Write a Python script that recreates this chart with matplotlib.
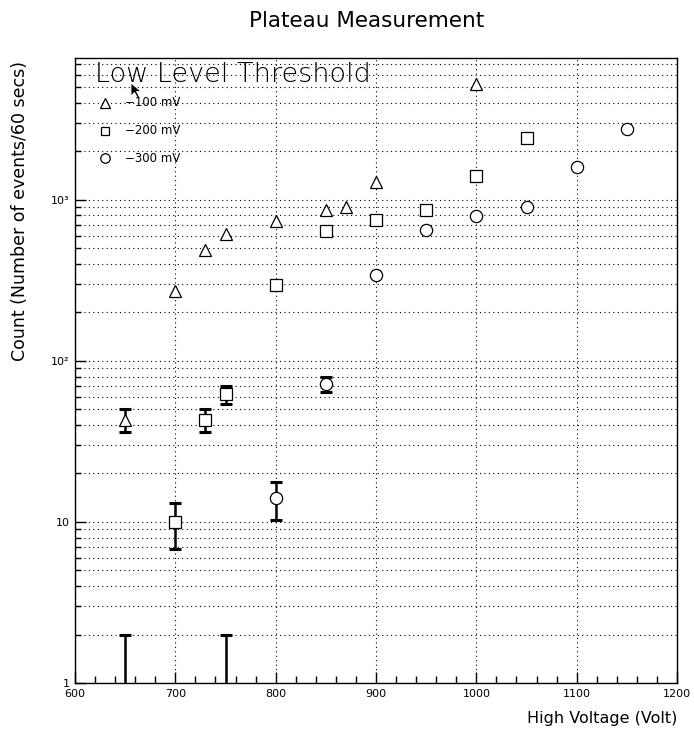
import numpy as np
import matplotlib
matplotlib.use("Agg")
import matplotlib.pyplot as plt
from matplotlib.ticker import FixedLocator, MultipleLocator, LogLocator, FixedFormatter, NullFormatter
from matplotlib.patches import Polygon

# -100 mV threshold
hv_100 = [650, 700, 730, 750, 800, 850, 870, 900, 1000]
cnt_100 = [43, 271, 488, 614, 740, 865, 903, 1290, 5260]
err_100 = [7, 0, 0, 0, 0, 0, 0, 0, 0]

# -200 mV threshold
hv_200 = [700, 730, 750, 800, 850, 900, 950, 1000, 1050]
cnt_200 = [10, 43, 62, 296, 640, 750, 865, 1410, 2430]
err_200 = [3.2, 7, 8, 0, 0, 0, 0, 0, 0]

# -300 mV threshold
hv_300 = [800, 850, 900, 950, 1000, 1050, 1100, 1150]
cnt_300 = [14, 72, 341, 650, 795, 903, 1590, 2760]
err_300 = [3.7, 8, 0, 0, 0, 0, 0, 0]

# points sitting at the bottom of the log axis, only the upper bar shows
hv_low = [650, 750]
low_top = [2, 2]

legend_labels = ["\u2212100 mV", "\u2212200 mV", "\u2212300 mV"]
ytick_vals = [1, 10, 100, 1000]
ytick_labels = ["1", "10", "10\u00b2", "10\u00b3"]

W, H = 694, 735


def fx(x):
    return x / W


def fy(y):
    return 1 - y / H


plt.rcParams["font.family"] = ["DejaVu Sans"]

fig = plt.figure(figsize=(W / 100, H / 100), dpi=100)
ax = fig.add_axes([fx(75), fy(683), (677 - 75) / W, (683 - 58) / H])

ax.set_yscale("log")
ax.set_xlim(600, 1200)
ax.set_ylim(1, 7600)

# grid: every major x, every decade subdivision in y
ax.xaxis.set_major_locator(MultipleLocator(100))
ax.xaxis.set_minor_locator(MultipleLocator(20))
ax.yaxis.set_major_locator(FixedLocator(ytick_vals))
ax.yaxis.set_major_formatter(FixedFormatter(ytick_labels))
ax.yaxis.set_minor_locator(LogLocator(base=10, subs=np.arange(2, 10)))
ax.yaxis.set_minor_formatter(NullFormatter())
ax.grid(True, which="major", axis="x", color="black", linestyle=(0, (1, 3)), linewidth=0.8)
ax.grid(True, which="both", axis="y", color="black", linestyle=(0, (1, 3)), linewidth=0.8)

ax.tick_params(axis="x", which="major", direction="in", length=8, width=1, labelsize=8, pad=4)
ax.tick_params(axis="x", which="minor", direction="in", length=5, width=1)
ax.tick_params(axis="y", which="major", direction="in", length=8, width=1, labelsize=8, pad=4)
ax.tick_params(axis="y", which="minor", direction="in", length=4, width=1)
for s in ax.spines.values():
    s.set_linewidth(1.0)

series = [
    (hv_100, cnt_100, err_100, "^"),
    (hv_200, cnt_200, err_200, "s"),
    (hv_300, cnt_300, err_300, "o"),
]
for hv, cnt, err, mk in series:
    hv = np.array(hv)
    cnt = np.array(cnt, dtype=float)
    err = np.array(err, dtype=float)
    m = err > 0
    ax.errorbar(hv[m], cnt[m], yerr=err[m], fmt="none", ecolor="black",
                elinewidth=1.8, capsize=4.3, capthick=2.2, zorder=2)
    ms = 8 if mk == "s" else 8.8
    ax.plot(hv, cnt, linestyle="none", marker=mk, ms=ms, mfc="white",
            mec="black", mew=0.9, zorder=3)

ax.vlines(hv_low, 1, low_top, colors="black", linewidth=1.8, zorder=2)
ax.plot(hv_low, low_top, linestyle="none", marker="_", ms=8.6, mew=2.2,
        color="black", zorder=2)

# title and axis titles (ROOT style: right aligned)
fig.text(fx(367), fy(21), "Plateau Measurement", ha="center", va="center",
         fontsize=15.5)
ax.set_xlabel("High Voltage (Volt)", loc="right", fontsize=11.5, va="center")
ax.xaxis.set_label_coords(1.0, (683 - 719) / 625)
ax.set_ylabel("Count (Number of events/60 secs)", loc="top", fontsize=12.5)
ax.yaxis.set_label_coords((29 - 75) / 602, (683 - 61) / 625)

# legend box contents
fig.text(fx(95), fy(74), "Low Level Threshold", ha="left", va="center",
         fontsize=19.5, fontweight="light")
leg_y = [103, 131, 158]
leg_mk = ["^", "s", "o"]
leg_ms = [7.5, 6.2, 6.8]
for yy, mk, ms, lab in zip(leg_y, leg_mk, leg_ms, legend_labels):
    fig.lines.append(plt.Line2D([fx(105)], [fy(yy)], transform=fig.transFigure,
                                marker=mk, ms=ms, mfc="white", mec="black", mew=0.9,
                                linestyle="none"))
    fig.text(fx(125), fy(yy), lab, ha="left", va="center", fontsize=8.5)

# mouse pointer left on the screenshot
cur = np.array([[0, 0], [0, 13], [3.5, 9.5], [6.5, 15], [8.5, 14], [5.5, 8.5], [10, 8.5]])
cur = cur + np.array([131, 83])
fig.patches.append(Polygon(np.column_stack([fx(cur[:, 0]), fy(cur[:, 1])]),
                           closed=True, transform=fig.transFigure,
                           facecolor="black", edgecolor="white", linewidth=0.6))

fig.savefig("out.png", dpi=100)
